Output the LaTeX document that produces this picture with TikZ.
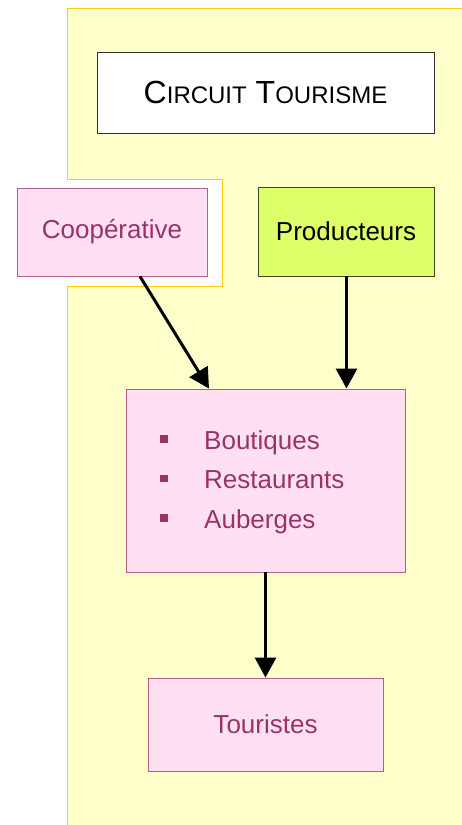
\documentclass[tikz,border=0pt]{standalone}
\usepackage{fontspec}
\setmainfont{Liberation Sans}
\usetikzlibrary{arrows.meta}
\definecolor{zonefill}{HTML}{FFFFCC}
\definecolor{zoneline}{HTML}{FFCC00}
\definecolor{pinkfill}{HTML}{FFE0F2}
\definecolor{pinkline}{HTML}{B85C8C}
\definecolor{plum}{HTML}{993366}
\definecolor{limefill}{HTML}{DCFF6A}
\definecolor{limeline}{HTML}{3A4A10}

\tikzset{
  box/.style={rectangle, inner sep=0pt, line width=0.9pt,
    font=\fontsize{26}{31}\selectfont},
  pinkbox/.style={box, draw=pinkline, fill=pinkfill, text=plum},
  titlebox/.style={box, draw=black!80, fill=white},
  limebox/.style={box, draw=limeline, fill=limefill, text=black},
  bulletsq/.style={rectangle, fill=plum, minimum size=7.5pt, inner sep=0pt},
  item/.style={anchor=base west, inner sep=0pt, text=plum,
    font=\fontsize{26}{31}\selectfont},
  flow/.style={line width=3pt, -{Triangle[width=21pt,length=20pt]}}
}

\begin{document}
\begin{tikzpicture}[x=1pt,y=-1pt]
\useasboundingbox (0,0) rectangle (462,825);

% yellow zone with a notch for the cooperative
\fill[zonefill] (462,8) -- (67,8) -- (67,179) -- (222,179) -- (222,286)
  -- (67,286) -- (67,825) -- (462,825) -- cycle;
\draw[zoneline, line width=1pt] (462,8) -- (67,8) -- (67,179) -- (222,179)
  -- (222,286) -- (67,286) -- (67,825);

% title
\node[titlebox, minimum width=337pt, minimum height=81pt] (title) at (265.5,92.5)
  {\fontsize{32}{38}\selectfont C{\fontsize{24}{29}\selectfont IRCUIT}
   T{\fontsize{24}{29}\selectfont OURISME}};

% actors
\node[pinkbox, minimum width=190pt, minimum height=88pt] (coop) at (112,232) {Coopérative};
\node[limebox, minimum width=176pt, minimum height=89pt] (prod) at (346,231.5) {Producteurs};

% businesses with their list
\node[pinkbox, minimum width=279pt, minimum height=183pt] (mid) at (265.5,480.5) {};
\node[bulletsq] (b1) at (164,439) {};
\node[bulletsq] (b2) at (164,478.5) {};
\node[bulletsq] (b3) at (164,518) {};
\node[item] (i1) at (204,449) {Boutiques};
\node[item] (i2) at (204,488.5) {Restaurants};
\node[item] (i3) at (204,528) {Auberges};

% visitors
\node[pinkbox, minimum width=235pt, minimum height=93pt] (tour) at (265.5,724.5) {Touristes};

% flows
\draw[flow] ([xshift=28pt]coop.south) -- ([xshift=-56.5pt]mid.north);
\draw[flow] ([xshift=0.5pt]prod.south) -- ([xshift=0.5pt]prod.south |- mid.north);
\draw[flow] (mid.south) -- (tour.north);
\end{tikzpicture}
\end{document}
